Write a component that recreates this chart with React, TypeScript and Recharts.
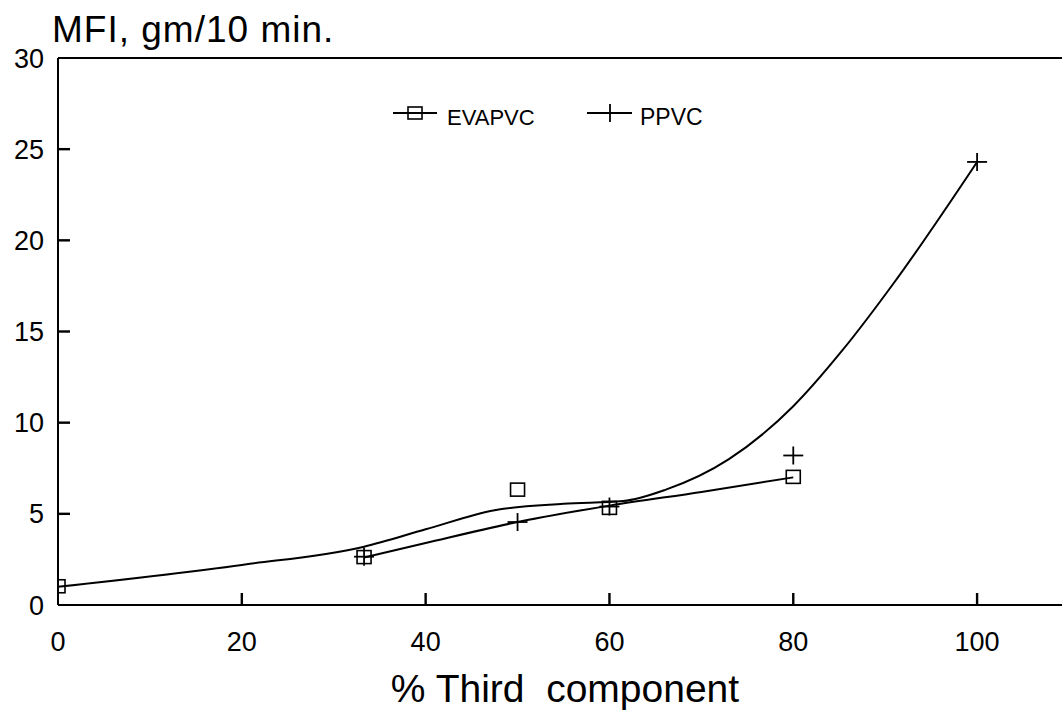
import React from 'react'
import {
  ComposedChart,
  Line,
  Scatter,
  XAxis,
  YAxis,
  ReferenceLine,
  Customized
} from 'recharts'

const xTicks = [0, 20, 40, 60, 80, 100]
const yTicks = [0, 5, 10, 15, 20, 25, 30]

// measured points
const evapvcX = [0, 33.3, 50, 60, 80]
const evapvcY = [1.0, 2.6, 6.3, 5.3, 7.0]
const ppvcX = [33.3, 50, 60, 80, 100]
const ppvcY = [2.65, 4.55, 5.4, 8.2, 24.3]

// fitted curves
const fitUpperX = [0, 20, 33.3, 40, 47.5, 55, 61.5, 66, 73, 80, 85.4, 91, 100]
const fitUpperY = [1.0, 2.2, 3.2, 4.15, 5.2, 5.55, 5.7, 6.3, 8.0, 10.9, 14.0, 17.7, 24.3]
const fitLowerX = [33.3, 40, 50, 60, 70, 80]
const fitLowerY = [2.6, 3.4, 4.55, 5.45, 6.2, 7.0]

const zip = (xs: number[], ys: number[]) => xs.map((x, i) => ({ x, y: ys[i] }))

const FONT = '"Liberation Sans", Arial, sans-serif'

const Square = (props: any) => {
  const { cx, cy } = props
  if (cx == null || cy == null) return null
  return (
    <rect x={cx - 7} y={cy - 7} width={14} height={13} fill="none" stroke="#000" strokeWidth={1.6} />
  )
}

const Plus = (props: any) => {
  const { cx, cy } = props
  if (cx == null || cy == null) return null
  return (
    <g stroke="#000" strokeWidth={1.8}>
      <line x1={cx - 10} y1={cy} x2={cx + 10} y2={cy} />
      <line x1={cx} y1={cy - 9} x2={cx} y2={cy + 9} />
    </g>
  )
}

// inward tick marks, placed through the axis scales
const XTickMark = (props: any) => {
  const { cx, cy } = props
  if (cx == null || cy == null) return null
  return <rect x={cx - 1.2} y={cy - 12} width={2.4} height={12} fill="#000" />
}

const YTickMark = (props: any) => {
  const { cx, cy } = props
  if (cx == null || cy == null) return null
  return <rect x={cx} y={cy - 1.2} width={12} height={2.4} fill="#000" />
}

const Texts = () => (
  <g fontFamily={FONT} fill="#000">
    <text x={52} y={42} fontSize={37} letterSpacing={1}>MFI, gm/10 min.</text>
    <text x={565} y={702} fontSize={39} textAnchor="middle" style={{ whiteSpace: 'pre' }}>
      {'% Third  component'}
    </text>
    {/* legend */}
    <g stroke="#000" strokeWidth={1.8}>
      <line x1={393} y1={113} x2={437} y2={113} />
      <rect x={408} y={107} width={14} height={12} fill="none" strokeWidth={1.6} />
      <line x1={587} y1={113} x2={632} y2={113} />
      <line x1={610} y1={104} x2={610} y2={122} />
    </g>
    <text x={447} y={125} fontSize={22}>EVAPVC</text>
    <text x={640} y={125} fontSize={23}>PPVC</text>
  </g>
)

const tickStyle = { fontSize: 27, fill: '#000', fontFamily: FONT }

export default function App() {
  return (
    <div
      style={{
        position: 'absolute',
        left: 0,
        top: 0,
        width: 1062,
        height: 710,
        overflow: 'hidden',
        background: '#fff'
      }}
    >
      <ComposedChart width={1070} height={710} margin={{ top: 58, right: 1, bottom: 0, left: 0 }}>
        <XAxis
          type="number"
          dataKey="x"
          domain={[0, 110]}
          ticks={xTicks}
          allowDataOverflow
          height={105}
          tickSize={0}
          tickMargin={27}
          axisLine={{ stroke: '#000', strokeWidth: 2 }}
          tickLine={false}
          tick={tickStyle}
        />
        <YAxis
          type="number"
          dataKey="y"
          domain={[0, 30]}
          ticks={yTicks}
          allowDataOverflow
          width={58}
          tickSize={0}
          tickMargin={14}
          axisLine={{ stroke: '#000', strokeWidth: 2 }}
          tickLine={false}
          tick={tickStyle}
        />
        <ReferenceLine y={30} stroke="#000" strokeWidth={2} ifOverflow="visible" />
        <Scatter
          data={xTicks.slice(1).map((t) => ({ x: t, y: 0 }))}
          dataKey="y"
          shape={XTickMark}
          isAnimationActive={false}
        />
        <Scatter
          data={yTicks.slice(1, -1).map((t) => ({ x: 0, y: t }))}
          dataKey="y"
          shape={YTickMark}
          isAnimationActive={false}
        />
        <Line
          data={zip(fitUpperX, fitUpperY)}
          dataKey="y"
          type="monotone"
          stroke="#000"
          strokeWidth={2}
          dot={false}
          activeDot={false}
          isAnimationActive={false}
        />
        <Line
          data={zip(fitLowerX, fitLowerY)}
          dataKey="y"
          type="monotone"
          stroke="#000"
          strokeWidth={2}
          dot={false}
          activeDot={false}
          isAnimationActive={false}
        />
        <Scatter data={zip(evapvcX, evapvcY)} dataKey="y" shape={Square} isAnimationActive={false} />
        <Scatter data={zip(ppvcX, ppvcY)} dataKey="y" shape={Plus} isAnimationActive={false} />
        <Customized component={Texts} />
      </ComposedChart>
    </div>
  )
}
